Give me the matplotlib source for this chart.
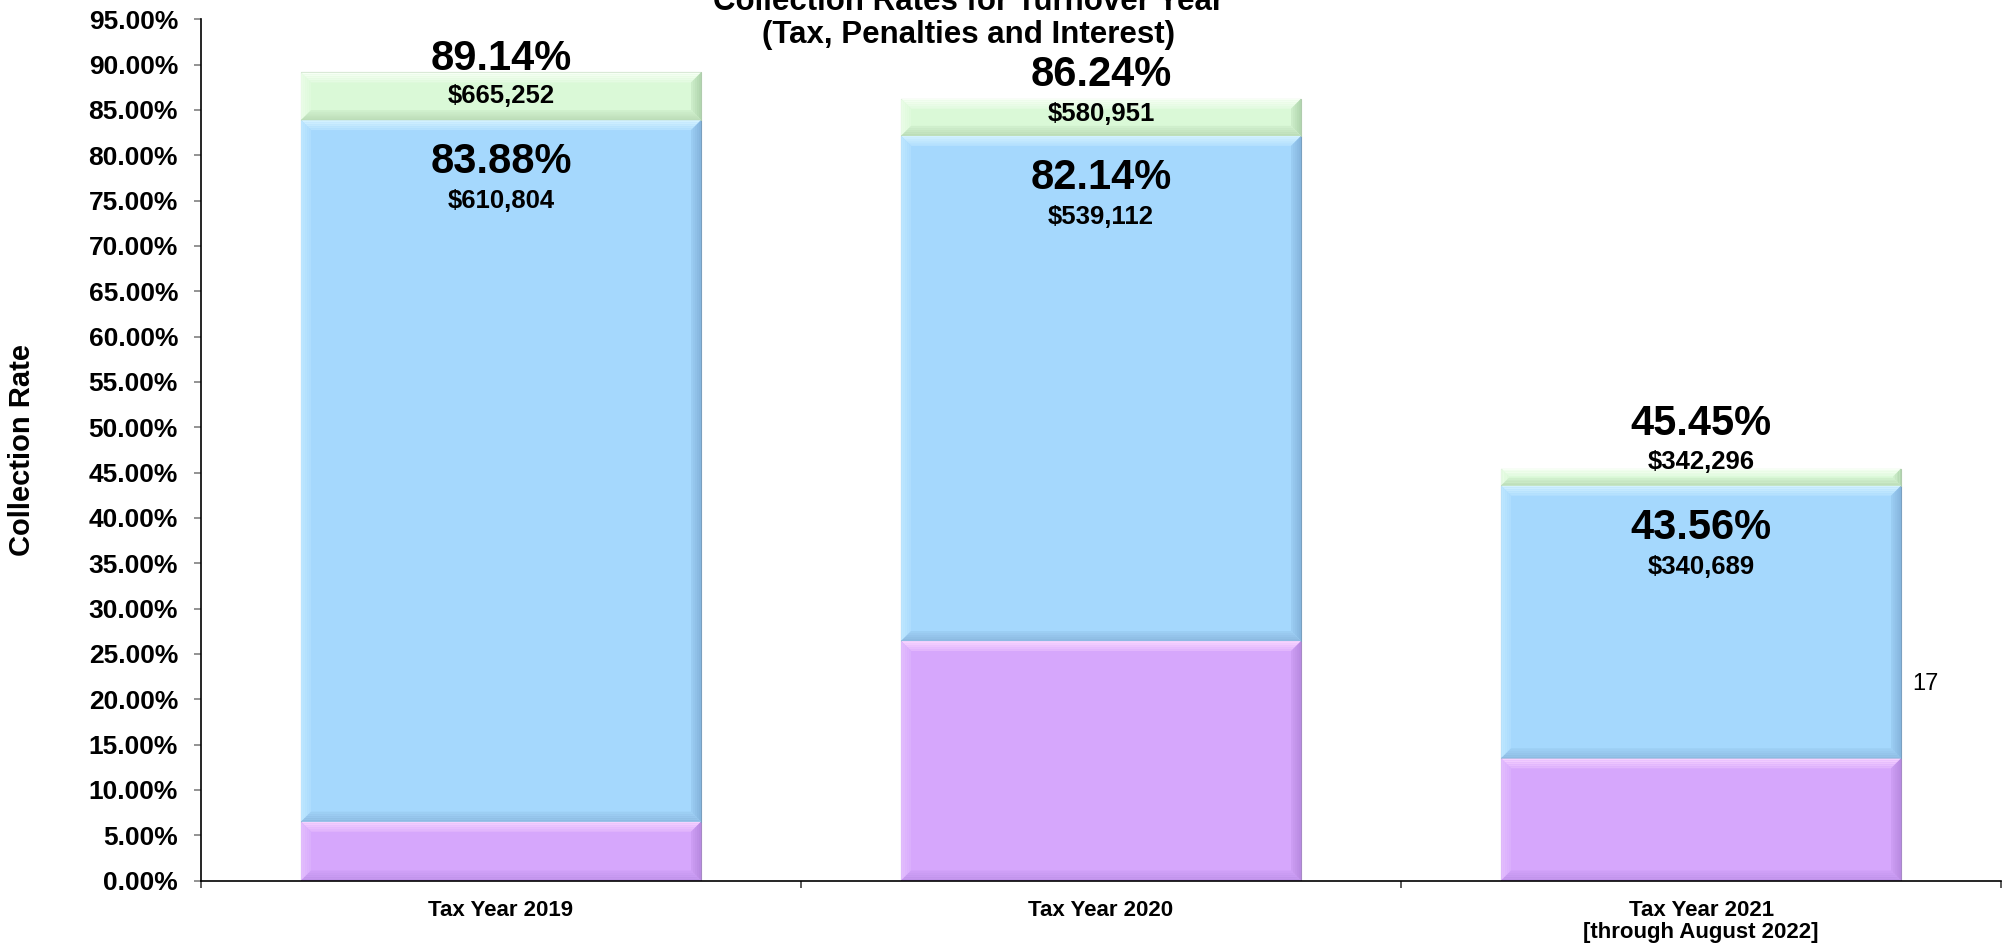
import numpy as np
import matplotlib
matplotlib.use("Agg")
import matplotlib.pyplot as plt
from matplotlib.patches import Polygon
from matplotlib.colors import to_rgb
from matplotlib.ticker import FuncFormatter

plt.rcParams['font.family'] = ['Liberation Sans', 'DejaVu Sans']

# datos por año fiscal
categories = ["Tax Year 2019", "Tax Year 2020", "Tax Year 2021\n[through August 2022]"]
base_rate = [6.49, 26.42, 13.48]          # parte inferior (morada)
tax_rate = [83.88, 82.14, 43.56]          # tasa acumulada de impuesto (azul)
total_rate = [89.14, 86.24, 45.45]        # tasa total con multas e intereses (verde)
tax_amount = ["$610,804", "$539,112", "$340,689"]
total_amount = ["$665,252", "$580,951", "$342,296"]

# colores: cara, bisel arriba, izquierda, derecha, abajo
purple = ["#D6A7FC", "#F6D2FF", "#E2BCFD", "#B98BE2", "#BF92EA"]
blue = ["#A5D8FD", "#D2F1FF", "#BDE6FF", "#86B6DE", "#8DBBE2"]
green = ["#DAF9D7", "#F7FFF5", "#E9FCE6", "#B2D6AF", "#BCDDB8"]

fig = plt.figure(figsize=(20.05, 9.46), dpi=100)
ax = fig.add_axes([0.10025, 0.0692, 0.8978, 0.9104])

x = np.arange(len(categories))
w = 2 / 3
blue_h = [t - b for t, b in zip(tax_rate, base_rate)]
green_h = [t - b for t, b in zip(total_rate, tax_rate)]

bars_p = ax.bar(x, base_rate, w, color=purple[0], edgecolor="#A68AC4", linewidth=0.8)
bars_b = ax.bar(x, blue_h, w, bottom=base_rate, color=blue[0], edgecolor="#7A9FBE", linewidth=0.8)
bars_g = ax.bar(x, green_h, w, bottom=tax_rate, color=green[0], edgecolor="#B0CCAD", linewidth=0.8)

ax.set_xlim(-0.5, 2.5)
ax.set_ylim(0, 95)


def mix(c1, c2, t):
    a, b = np.array(to_rgb(c1)), np.array(to_rgb(c2))
    return tuple(a + (b - a) * t)


def bevel(bars, cols, depth=10, steps=5):
    # bordes biselados con degradado hacia la cara
    for b in bars:
        x0, y0 = b.get_x(), b.get_y()
        x1, y1 = x0 + b.get_width(), y0 + b.get_height()
        p0 = ax.transData.transform((x0, y0))
        p1 = ax.transData.transform((x1, y1))
        d = min(depth, (p1[1] - p0[1]) / 2.2)
        dx = d * (x1 - x0) / (p1[0] - p0[0])
        dy = d * (y1 - y0) / (p1[1] - p0[1])
        for k in range(steps):
            f1, f2 = k / steps, (k + 1) / steps
            t = k / steps
            sides = [
                ([(x0 + f1 * dx, y1 - f1 * dy), (x1 - f1 * dx, y1 - f1 * dy),
                  (x1 - f2 * dx, y1 - f2 * dy), (x0 + f2 * dx, y1 - f2 * dy)], cols[1]),
                ([(x0 + f1 * dx, y0 + f1 * dy), (x0 + f1 * dx, y1 - f1 * dy),
                  (x0 + f2 * dx, y1 - f2 * dy), (x0 + f2 * dx, y0 + f2 * dy)], cols[2]),
                ([(x1 - f1 * dx, y0 + f1 * dy), (x1 - f1 * dx, y1 - f1 * dy),
                  (x1 - f2 * dx, y1 - f2 * dy), (x1 - f2 * dx, y0 + f2 * dy)], cols[3]),
                ([(x0 + f1 * dx, y0 + f1 * dy), (x1 - f1 * dx, y0 + f1 * dy),
                  (x1 - f2 * dx, y0 + f2 * dy), (x0 + f2 * dx, y0 + f2 * dy)], cols[4]),
            ]
            for pts, c in sides:
                ax.add_patch(Polygon(pts, closed=True, facecolor=mix(c, cols[0], t * 0.8),
                                     edgecolor="none", zorder=2.5))


bevel(bars_p, purple)
bevel(bars_b, blue)
bevel(bars_g, green)

# etiquetas (desplazamientos en puntos)
total_off = [1.4, 9.4, 23.8]
green_off = [-22.3, -15.8, 0.0]
for i in range(len(x)):
    ax.annotate(f"{total_rate[i]:.2f}%", xy=(x[i], total_rate[i]), xytext=(0, total_off[i]),
                textcoords="offset points", ha="center", va="baseline",
                fontsize=30, fontweight="bold", zorder=5)
    ax.annotate(total_amount[i], xy=(x[i], total_rate[i]), xytext=(0, green_off[i]),
                textcoords="offset points", ha="center", va="baseline",
                fontsize=18.5, fontweight="bold", zorder=5)
    ax.annotate(f"{tax_rate[i]:.2f}%", xy=(x[i], tax_rate[i]), xytext=(0, -38.2),
                textcoords="offset points", ha="center", va="baseline",
                fontsize=30, fontweight="bold", zorder=5)
    ax.annotate(tax_amount[i], xy=(x[i], tax_rate[i]), xytext=(0, -63.4),
                textcoords="offset points", ha="center", va="baseline",
                fontsize=18.5, fontweight="bold", zorder=5)

# ejes
ax.spines["top"].set_visible(False)
ax.spines["right"].set_visible(False)
ax.spines["left"].set_linewidth(1.2)
ax.spines["bottom"].set_linewidth(1.2)

ax.set_yticks(np.arange(0, 95.1, 5))
ax.yaxis.set_major_formatter(FuncFormatter(lambda v, p: f"{v:.2f}%"))
ax.tick_params(axis="y", direction="out", length=5, width=1.2, color="#808080",
               pad=11.5, labelsize=19)
for t in ax.get_yticklabels():
    t.set_fontweight("bold")

ax.set_xticks(x)
ax.set_xticklabels(categories, fontsize=16, fontweight="bold")
ax.set_xticks([-0.5, 0.5, 1.5, 2.5], minor=True)
ax.tick_params(axis="x", which="major", length=0, pad=14)
ax.tick_params(axis="x", which="minor", direction="out", length=5, width=1.2, color="#404040")
ax.get_xticklabels()[2].set_linespacing(1.05)

ax.set_ylabel("Collection Rate", fontsize=21, fontweight="bold")
ax.yaxis.set_label_coords(-0.0917, 0.5)

# título
fig.text(0.483, 0.9894, "Collection Rates for Turnover Year", ha="center", va="baseline",
         fontsize=22.5, fontweight="bold")
fig.text(0.483, 0.9545, "(Tax, Penalties and Interest)", ha="center", va="baseline",
         fontsize=22.5, fontweight="bold")

fig.text(0.9536, 0.2706, "17", fontsize=17, va="baseline")

fig.savefig("out.png", dpi=100)
